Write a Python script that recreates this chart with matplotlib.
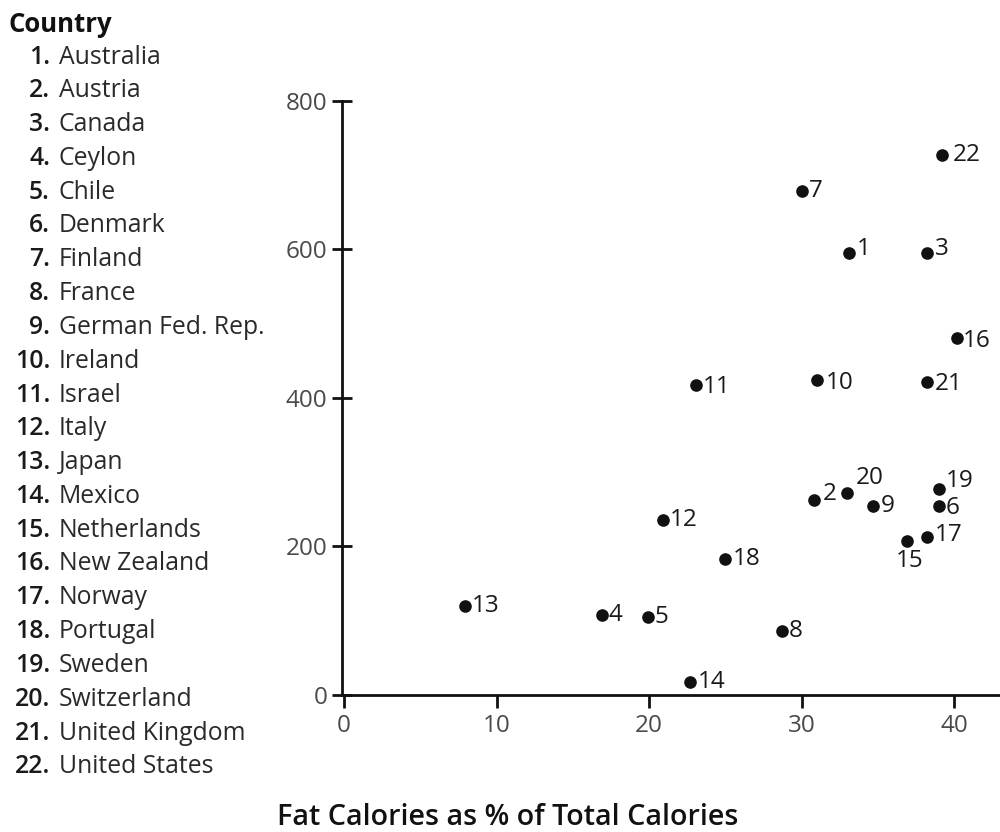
import matplotlib.pyplot as plt

plt.rcParams['font.family'] = ['Open Sans', 'DejaVu Sans']

# data
countries = ["Australia", "Austria", "Canada", "Ceylon", "Chile", "Denmark", "Finland",
             "France", "German Fed. Rep.", "Ireland", "Israel", "Italy", "Japan", "Mexico",
             "Netherlands", "New Zealand", "Norway", "Portugal", "Sweden", "Switzerland",
             "United Kingdom", "United States"]
fat_pct = [33.1, 30.8, 38.2, 16.9, 19.9, 39.0, 30.0, 28.7, 34.7, 31.0, 23.1,
           20.9, 7.9, 22.7, 36.9, 40.2, 38.2, 25.0, 39.0, 33.0, 38.2, 39.2]
y_vals = [595, 263, 595, 108, 105, 255, 679, 86, 255, 424, 418,
          236, 120, 18, 207, 481, 213, 183, 277, 272, 422, 727]
x_ticks = [0, 10, 20, 30, 40]
y_ticks = [0, 200, 400, 600, 800]

# label placement (pixels from the dot), default is just to the right
label_offsets = {2: (9, 6), 20: (8, 15), 19: (7, 8), 6: (7, -2), 15: (3, -20),
                 1: (8, 4), 3: (8, 4), 10: (9, -3), 22: (11, 0), 16: (6, -3),
                 17: (8, 2), 21: (8, -2), 11: (6, -2)}
label_align = {15: "center"}

fig = plt.figure(figsize=(10, 8.32), dpi=100)
ax = fig.add_axes([0.342, 0.1647, 0.658, 0.7139])

ax.scatter(fat_pct, y_vals, s=65, color="#111111", zorder=3, clip_on=False)
for i, (x, y) in enumerate(zip(fat_pct, y_vals), start=1):
    off = label_offsets.get(i, (7, 0))
    ax.annotate(str(i), (x, y), xytext=off, textcoords="offset pixels",
                ha=label_align.get(i, "left"), va="center", fontsize=17.5,
                color="#1a1a1a")

ax.set_xlim(-0.13, 43)
ax.set_ylim(0, 800)
ax.set_xticks(x_ticks)
ax.set_yticks(y_ticks)
for side in ["top", "right"]:
    ax.spines[side].set_visible(False)
for side in ["left", "bottom"]:
    ax.spines[side].set_linewidth(2)
    ax.spines[side].set_color("#111111")
ax.tick_params(axis="y", direction="inout", length=15, width=2, pad=3,
               labelsize=17.5, labelcolor="#4a4a4a", color="#111111")
ax.tick_params(axis="x", direction="out", length=9, width=2, pad=5,
               labelsize=17.5, labelcolor="#4a4a4a", color="#111111")

ax.set_xlabel("Fat Calories as % of Total Calories", fontsize=20.7, fontweight="semibold",
              color="#111111", va="center")
ax.xaxis.set_label_coords((508 - 342) / 658, (695 - 818) / 594)

# country key on the left
fig.text(0.008, 1 - 24 / 832, "Country", fontsize=18.5, fontweight="bold",
         color="#111111", va="center", ha="left")
for i, name in enumerate(countries, start=1):
    yy = 1 - (57 + (i - 1) * 33.8) / 832
    fig.text(0.05, yy, f"{i}.", fontsize=17.8, fontweight="semibold", color="#1a1a1a",
             va="center", ha="right")
    fig.text(0.059, yy, name, fontsize=17.8, color="#2a2a2a", va="center", ha="left")

fig.savefig("out.png", dpi=100)
